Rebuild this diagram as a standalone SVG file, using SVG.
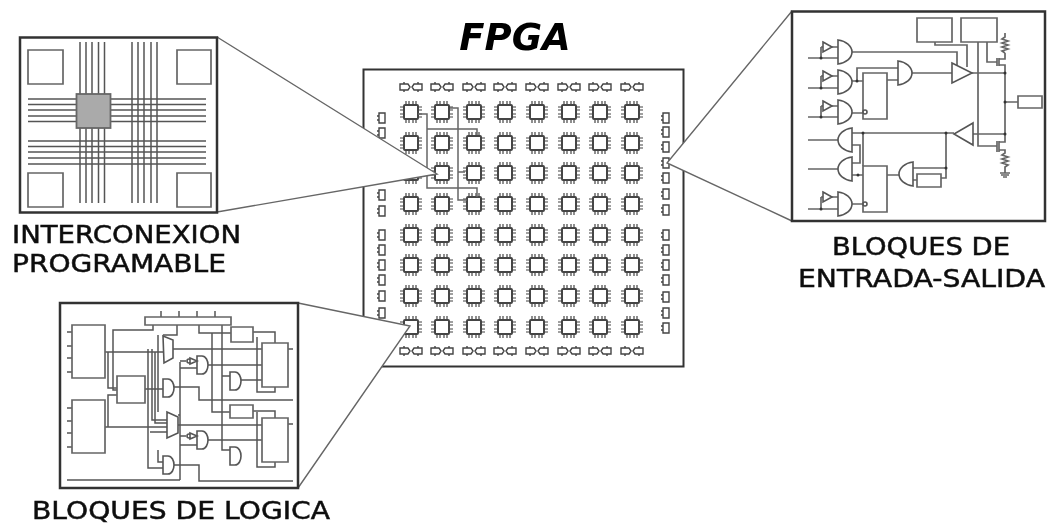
<svg xmlns="http://www.w3.org/2000/svg" width="1049" height="524" viewBox="0 0 1049 524">
<style>
.frame{fill:#fff;stroke:#333;stroke-width:2.5}
.wire{fill:none;stroke:#555;stroke-width:1.5}
.wr{fill:none;stroke:#666;stroke-width:1.7}
.route{fill:none;stroke:#666;stroke-width:1.5}
.box{fill:#fff;stroke:#666;stroke-width:1.7}
.gate{fill:#fff;stroke:#555;stroke-width:1.6}
.callout{fill:none;stroke:#666;stroke-width:1.4}
.wedge{fill:#fff;stroke:none}
.lbl{font-family:"DejaVu Sans",sans-serif;font-size:24.500px;fill:#111;stroke:#111;stroke-width:.5}
.cell{fill:none;stroke:#444;stroke-width:2}
.pin{fill:none;stroke:#444;stroke-width:1.2}
.io{fill:none;stroke:#444;stroke-width:1.4}
.dot{fill:#333}
</style>
<defs>
<filter id="soft" x="-5%" y="-5%" width="110%" height="110%"><feGaussianBlur stdDeviation="0.5"/></filter>
<filter id="softer" x="-5%" y="-5%" width="110%" height="110%"><feGaussianBlur stdDeviation="0.65"/></filter>
<filter id="txt" x="-5%" y="-10%" width="110%" height="120%"><feGaussianBlur stdDeviation="0.4"/></filter>
<g id="clb">
<rect class="cell" x="-7" y="-7" width="14" height="14" rx="1"/>
<path class="pin" d="M-5-11V-8M-2-11V-8M2-11V-8M5-11V-8M-5 8V11M-2 8V11M2 8V11M5 8V11M-11-5H-8M-11-2H-8M-11 2H-8M-11 5H-8M8-5H11M8-2H11M8 2H11M8 5H11"/>
</g>
<g id="ioh"><path class="io" d="M-11-3H-3L-1 0-3 3H-11ZM11-3H3L1 0 3 3H11ZM-7-5V-3M7-5V-3M-7 3V5M7 3V5"/></g>
<g id="iov"><path class="io" d="M-3-5H3V5H-3ZM-5-2H-3M-5 2H-3"/></g>
<path id="buf" class="gate" d="M0-5L9 0 0 5Z"/>
<path id="ga" class="gate" d="M0-9H5C9-9 11-4 11 0S9 9 5 9H0Z"/>
<path id="gr" class="gate" d="M0-12C8-11 14-6 14 0S8 11 0 12Z"/>
<path id="gl" class="gate" d="M14-12C6-11 0-6 0 0S6 11 14 12Z"/>
</defs>

<text id="title" x="515" y="50" font-family="'DejaVu Sans',sans-serif" font-size="37" font-weight="bold" font-style="italic" text-anchor="middle" fill="#000" filter="url(#txt)">FPGA</text>

<g id="fpga">
<rect x="363.500" y="69.500" width="320" height="297" fill="#fff" stroke="#333" stroke-width="2"/>
<g filter="url(#softer)">
<g id="logic-cells">
<use href="#clb" x="411" y="112"/><use href="#clb" x="442" y="112"/><use href="#clb" x="474" y="112"/><use href="#clb" x="505" y="112"/><use href="#clb" x="537" y="112"/><use href="#clb" x="569" y="112"/><use href="#clb" x="600" y="112"/><use href="#clb" x="632" y="112"/>
<use href="#clb" x="411" y="143"/><use href="#clb" x="442" y="143"/><use href="#clb" x="474" y="143"/><use href="#clb" x="505" y="143"/><use href="#clb" x="537" y="143"/><use href="#clb" x="569" y="143"/><use href="#clb" x="600" y="143"/><use href="#clb" x="632" y="143"/>
<use href="#clb" x="411" y="173"/><use href="#clb" x="442" y="173"/><use href="#clb" x="474" y="173"/><use href="#clb" x="505" y="173"/><use href="#clb" x="537" y="173"/><use href="#clb" x="569" y="173"/><use href="#clb" x="600" y="173"/><use href="#clb" x="632" y="173"/>
<use href="#clb" x="411" y="204"/><use href="#clb" x="442" y="204"/><use href="#clb" x="474" y="204"/><use href="#clb" x="505" y="204"/><use href="#clb" x="537" y="204"/><use href="#clb" x="569" y="204"/><use href="#clb" x="600" y="204"/><use href="#clb" x="632" y="204"/>
<use href="#clb" x="411" y="235"/><use href="#clb" x="442" y="235"/><use href="#clb" x="474" y="235"/><use href="#clb" x="505" y="235"/><use href="#clb" x="537" y="235"/><use href="#clb" x="569" y="235"/><use href="#clb" x="600" y="235"/><use href="#clb" x="632" y="235"/>
<use href="#clb" x="411" y="265"/><use href="#clb" x="442" y="265"/><use href="#clb" x="474" y="265"/><use href="#clb" x="505" y="265"/><use href="#clb" x="537" y="265"/><use href="#clb" x="569" y="265"/><use href="#clb" x="600" y="265"/><use href="#clb" x="632" y="265"/>
<use href="#clb" x="411" y="296"/><use href="#clb" x="442" y="296"/><use href="#clb" x="474" y="296"/><use href="#clb" x="505" y="296"/><use href="#clb" x="537" y="296"/><use href="#clb" x="569" y="296"/><use href="#clb" x="600" y="296"/><use href="#clb" x="632" y="296"/>
<use href="#clb" x="411" y="327"/><use href="#clb" x="442" y="327"/><use href="#clb" x="474" y="327"/><use href="#clb" x="505" y="327"/><use href="#clb" x="537" y="327"/><use href="#clb" x="569" y="327"/><use href="#clb" x="600" y="327"/><use href="#clb" x="632" y="327"/>
</g>
<g id="io-top">
<use href="#ioh" x="411" y="87"/><use href="#ioh" x="442" y="87"/><use href="#ioh" x="474" y="87"/><use href="#ioh" x="505" y="87"/><use href="#ioh" x="537" y="87"/><use href="#ioh" x="569" y="87"/><use href="#ioh" x="600" y="87"/><use href="#ioh" x="632" y="87"/>
</g>
<g id="io-bottom">
<use href="#ioh" x="411" y="351"/><use href="#ioh" x="442" y="351"/><use href="#ioh" x="474" y="351"/><use href="#ioh" x="505" y="351"/><use href="#ioh" x="537" y="351"/><use href="#ioh" x="569" y="351"/><use href="#ioh" x="600" y="351"/><use href="#ioh" x="632" y="351"/>
</g>
<g id="io-left">
<use href="#iov" x="382" y="118"/><use href="#iov" x="382" y="133"/><use href="#iov" x="382" y="195"/><use href="#iov" x="382" y="211"/><use href="#iov" x="382" y="235"/><use href="#iov" x="382" y="250"/><use href="#iov" x="382" y="265"/><use href="#iov" x="382" y="280"/><use href="#iov" x="382" y="296"/><use href="#iov" x="382" y="313"/>
</g>
<g id="io-right">
<use href="#iov" x="666" y="118"/><use href="#iov" x="666" y="132"/><use href="#iov" x="666" y="147"/><use href="#iov" x="666" y="163"/><use href="#iov" x="666" y="178"/><use href="#iov" x="666" y="194"/><use href="#iov" x="666" y="210"/><use href="#iov" x="666" y="235"/><use href="#iov" x="666" y="250"/><use href="#iov" x="666" y="265"/><use href="#iov" x="666" y="280"/><use href="#iov" x="666" y="297"/><use href="#iov" x="666" y="313"/><use href="#iov" x="666" y="328"/>
</g>
<path class="route" d="M418 114H427V188H477V197M427 129H477V135M450 108H458V200H467M458 172H465"/>
</g>
</g>

<g id="connectors">
<path class="wedge" d="M217 37L437 174 217 212Z"/>
<path class="wedge" d="M298 303L410 326 298 488Z"/>
<path class="wedge" d="M792 11L667 163 792 221Z"/>
<path class="callout" d="M217 37L437 174 217 212"/>
<path class="callout" d="M298 303L410 326 298 488"/>
<path class="callout" d="M792 11L667 163 792 221"/>
</g>

<g id="interconexion" filter="url(#soft)">
<rect class="frame" x="20" y="37.500" width="197" height="175"/>
<path class="box" style="fill:none" d="M28 50H63V84H28ZM177 50H211V84H177ZM28 173H63V207H28ZM177 173H211V207H177Z"/>
<path class="wire" d="M80 42V203M86 42V203M92 42V203M98.500 42V203M104.500 42V203M132 42V203M138 42V203M144 42V203M151 42V203M157 42V203"/>
<path class="wire" d="M28 99H206M28 104.500H206M28 110H206M28 116H206M28 121.500H206M28 141H206M28 146.500H206M28 152H206M28 158H206M28 164H206"/>
<rect x="76.500" y="94" width="34" height="34" fill="#aaa" stroke="#666" stroke-width="1.8"/>
</g>

<g id="logica" filter="url(#soft)">
<rect class="frame" x="60" y="303" width="238" height="185"/>
<path class="wire" d="M67 332H72M67 346H72M67 358H72M67 372H72M67 408H72M67 421H72M67 433H72M67 447H72"/>
<path class="wire" d="M161 317V311M179 317V311M197 317V311M215 317V311"/>
<path class="wire" d="M105 352H163M105 427H167M108 352V388H117M108 427V395H117M153 325V330H113V390H117M145 389H163M148 349V468H163M152 349V420H167M155 352V423H167M158 335V412M150 432H167M158 450V462H163M177 325V335H163M180 362V480M67 480H180M180 368H197M180 361H186M180 445H197M180 436H186M173 349H262M207 365H262M240 380H262M172 387H199V400H293M178 425H262M207 440H262M172 465H199V481H293M199 325V333H231M212 333V412H230M222 325V450H230M222 376H230M222 450H230M253 332H275V343M253 411H275V418M257 337V392H275V387M257 412V467H275V462M288 349H293M288 424H293M178 415H180"/>
<path class="box" d="M72 325H105V378H72ZM72 400H105V453H72ZM117 376H145V403H117Z"/>
<path class="box" d="M145 317H231V325H145ZM231 327H253V342H231ZM230 405H253V418H230Z"/>
<path class="box" d="M262 343H288V387H262ZM262 418H288V462H262Z"/>
<path class="gate" d="M163 336L173 340V358L164 363Z"/>
<use href="#ga" x="163" y="388"/>
<path class="gate" d="M167 412L178 417V433L167 438Z"/>
<use href="#ga" x="163" y="465"/>
<use href="#ga" x="197" y="365"/>
<use href="#ga" x="197" y="440"/>
<use href="#ga" x="230" y="381"/>
<use href="#ga" x="230" y="456"/>
<circle class="gate" cx="189" cy="361" r="2"/>
<circle class="gate" cx="189" cy="436" r="2"/>
<path class="gate" d="M190 358L197 361 190 364ZM190 433L197 436 190 439Z"/>
</g>

<g id="entrada-salida" filter="url(#soft)">
<rect class="frame" x="792" y="11.500" width="253" height="209.500"/>
<path class="wr" d="M808 58H838M808 88H838M808 117H838M808 140H838M808 169H838M808 209H838M821 47V58M821 76V88M821 106V117M821 197V209M821 47H823M821 76H823M821 106H823M821 197H823M832 47H838M832 76H838M832 106H838M832 197H838"/>
<path class="wr" d="M852 52H957V65M935 42V45H967V67M852 81H863M857 81V68H898M887 80H898M911 73H952M852 113H863M972 73H1005M978 42V146H997M987 42V62H997M1005 73V135M1005 102H1018M973 134H1005M852 133H954M863 133V166M946 133V178H941M912 168H946M912 180H917M852 145H860V163H852M852 175H863M887 175H899M852 204H863"/>
<path class="box" d="M917 18H952V42H917ZM961 18H997V42H961ZM1018 96H1042V108H1018ZM917 174H941V187H917Z"/>
<path class="box" d="M863 73H887V119H863ZM863 166H887V212H863Z"/>
<use href="#gr" x="838" y="52"/>
<use href="#gr" x="838" y="82"/>
<use href="#gr" x="838" y="112"/>
<use href="#gr" x="838" y="204"/>
<use href="#gr" x="898" y="73"/>
<use href="#gl" x="838" y="140"/>
<use href="#gl" x="838" y="169"/>
<use href="#gl" x="899" y="174"/>
<use href="#buf" x="823" y="47"/>
<use href="#buf" x="823" y="76"/>
<use href="#buf" x="823" y="106"/>
<use href="#buf" x="823" y="197"/>
<circle class="gate" cx="865" cy="112" r="2"/>
<circle class="gate" cx="865" cy="204" r="2"/>
<path class="gate" d="M952 63L972 73 952 83ZM973 123L954 134 973 145Z"/>
<path class="wr" d="M997 58V66M999 58V66M999 59H1005V53M999 65H1005V73M1005 33V37L1002 39 1008 41 1002 43 1008 45 1002 47 1008 49 1002 51 1005 53M997 141V152M999 141V152M1005 135V142H999M999 150H1005V153L1002 155 1008 157 1002 159 1008 161 1002 163 1008 165 1005 167V173M1000 173H1010M1001 175H1009M1003 177H1007"/>
<circle class="dot" cx="1005" cy="73" r="1.500"/><circle class="dot" cx="1005" cy="102" r="1.500"/><circle class="dot" cx="1005" cy="134" r="1.500"/><circle class="dot" cx="946" cy="133" r="1.500"/><circle class="dot" cx="946" cy="168" r="1.500"/><circle class="dot" cx="863" cy="133" r="1.500"/><circle class="dot" cx="857" cy="81" r="1.500"/><circle class="dot" cx="858" cy="175" r="1.500"/><circle class="dot" cx="821" cy="58" r="1.500"/><circle class="dot" cx="821" cy="88" r="1.500"/><circle class="dot" cx="821" cy="117" r="1.500"/><circle class="dot" cx="821" cy="209" r="1.500"/>
</g>

<g id="labels" filter="url(#txt)">
<text class="lbl" x="12" y="243" textLength="229" lengthAdjust="spacingAndGlyphs">INTERCONEXION</text>
<text class="lbl" x="12" y="272" textLength="214" lengthAdjust="spacingAndGlyphs">PROGRAMABLE</text>
<text class="lbl" x="32" y="519" textLength="298" lengthAdjust="spacingAndGlyphs">BLOQUES DE LOGICA</text>
<text class="lbl" x="832" y="255" textLength="178" lengthAdjust="spacingAndGlyphs">BLOQUES DE</text>
<text class="lbl" x="798" y="287" textLength="247" lengthAdjust="spacingAndGlyphs">ENTRADA-SALIDA</text>
</g>
</svg>
